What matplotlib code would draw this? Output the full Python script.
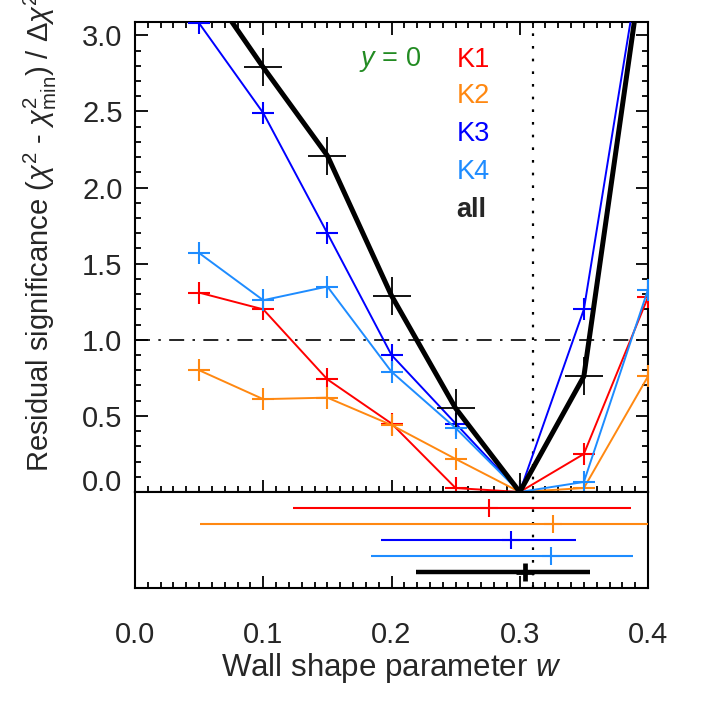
import numpy as np
import matplotlib
matplotlib.use('Agg')
import matplotlib.pyplot as plt
from matplotlib.ticker import MultipleLocator

plt.rcParams['font.family'] = ['Liberation Sans', 'DejaVu Sans']
plt.rcParams['mathtext.fontset'] = 'custom'
plt.rcParams['mathtext.rm'] = 'Liberation Sans'
plt.rcParams['mathtext.it'] = 'Liberation Sans:italic'

# wall shape parameter grid
w = [0.05, 0.10, 0.15, 0.20, 0.25, 0.30, 0.35, 0.40]
# residual significance per band
k1 = [1.31, 1.20, 0.74, 0.45, 0.026, 0.0, 0.25, 1.28]
k2 = [0.80, 0.61, 0.62, 0.44, 0.217, 0.0, 0.026, 0.76]
k3 = [3.08, 2.49, 1.70, 0.90, 0.45, 0.0, 1.20, 3.80]
k4 = [1.57, 1.26, 1.35, 0.79, 0.42, 0.0, 0.066, 1.33]
k_all = [3.40, 2.79, 2.21, 1.29, 0.55, 0.0, 0.76, 3.72]

# best fit w and range for bottom panel, order K1,K2,K3,K4,all
names = ['K1', 'K2', 'K3', 'K4', 'all']
best = [0.276, 0.326, 0.293, 0.324, 0.304]
lo = [0.123, 0.051, 0.192, 0.184, 0.219]
hi = [0.387, 0.43, 0.344, 0.388, 0.355]
w_ref = 0.31

colors = ['#ff0000', '#ff8811', '#0000ff', '#1e8cff', '#000000']
series = [k1, k2, k3, k4, k_all]
txtcol = '#262626'

fig = plt.figure(figsize=(7.01, 7.04), dpi=100)
ax1 = fig.add_axes([135/701, 1-492/704, 513/701, 470/704])
ax2 = fig.add_axes([135/701, 1-588/704, 513/701, 96/704])

for vals, c, n in zip(series, colors, names):
    if n == 'all':
        ax1.plot(w, vals, color=c, lw=3.6, marker='+', ms=27, mew=1.3, zorder=5)
    else:
        ax1.plot(w, vals, color=c, lw=1.4, marker='+', ms=16, mew=1.5, zorder=4)

ax1.axhline(1.0, color='k', lw=1.2, dashes=[9, 5, 1.5, 5], zorder=2)
ax1.axvline(w_ref, color='k', lw=1.6, dashes=[1.2, 4.5], zorder=2)

ax1.set_xlim(0, 0.4)
ax1.set_ylim(0, 3.088)
ax1.xaxis.set_major_locator(MultipleLocator(0.1))
ax1.xaxis.set_minor_locator(MultipleLocator(0.01))
ax1.yaxis.set_major_locator(MultipleLocator(0.5))
ax1.yaxis.set_minor_locator(MultipleLocator(0.1))
ax1.tick_params(which='both', direction='in', top=True, right=True, width=1.3,
                labelbottom=False, labelsize=21, labelcolor=txtcol, pad=9)
ax1.tick_params(which='major', length=9)
ax1.tick_params(which='minor', length=4.5)
ax1.set_yticks(np.arange(0.5, 3.01, 0.5))
ax1.set_yticklabels(['%.1f' % v for v in np.arange(0.5, 3.01, 0.5)])
ax1.annotate('0.0', xy=(0, 0), xycoords=('axes fraction', 'data'),
             xytext=(-13, 9), textcoords='offset pixels', ha='right', va='center',
             fontsize=21, color=txtcol, annotation_clip=False)

# legend labels
ax1.text(0.1986, 2.84, '$y$ = 0', color='#228b22', fontsize=19.5, ha='center', va='center')
ys = [2.84, 2.60, 2.35, 2.10, 1.85]
for n, c, yy in zip(names, colors, ys):
    ax1.text(0.2508, yy, n, color=(txtcol if n == 'all' else c), fontsize=19.5,
             ha='left', va='center', fontweight=('bold' if n == 'all' else 'normal'))

# bottom panel: best-fit w with ranges
rows = [5, 4, 3, 2, 1]
for i in range(len(names)):
    c = colors[i]
    thick = names[i] == 'all'
    ax2.errorbar(best[i], rows[i], xerr=[[best[i]-lo[i]], [hi[i]-best[i]]],
                 fmt='+', color=c, ecolor=c, elinewidth=(3.2 if thick else 1.5),
                 capsize=0, ms=13.5, mew=(3.4 if thick else 1.5), zorder=4)
ax2.axvline(w_ref, color='k', lw=1.6, dashes=[1.2, 4.5], zorder=2)
ax2.set_xlim(0, 0.4)
ax2.set_ylim(0, 6)
ax2.set_yticks([])
ax2.xaxis.set_major_locator(MultipleLocator(0.1))
ax2.xaxis.set_minor_locator(MultipleLocator(0.01))
ax2.tick_params(which='both', direction='in', width=1.3, labelsize=21,
                labelcolor=txtcol, pad=24)
ax2.tick_params(which='major', length=9)
ax2.tick_params(which='minor', length=4.5)
ax2.xaxis.set_major_formatter(matplotlib.ticker.FormatStrFormatter('%.1f'))
ax2.set_xlabel('Wall shape parameter $w$', fontsize=22.5, color=txtcol, labelpad=1)

for ax in (ax1, ax2):
    for s in ax.spines.values():
        s.set_linewidth(1.5)

fig.text(40/701, 1-232/704,
         r'Residual significance ($\chi^2$ - $\chi^2_{\rm min}$) / $\Delta\chi^2$',
         rotation=90, ha='center', va='center', fontsize=21, color=txtcol)

fig.savefig('out.png', dpi=100)
